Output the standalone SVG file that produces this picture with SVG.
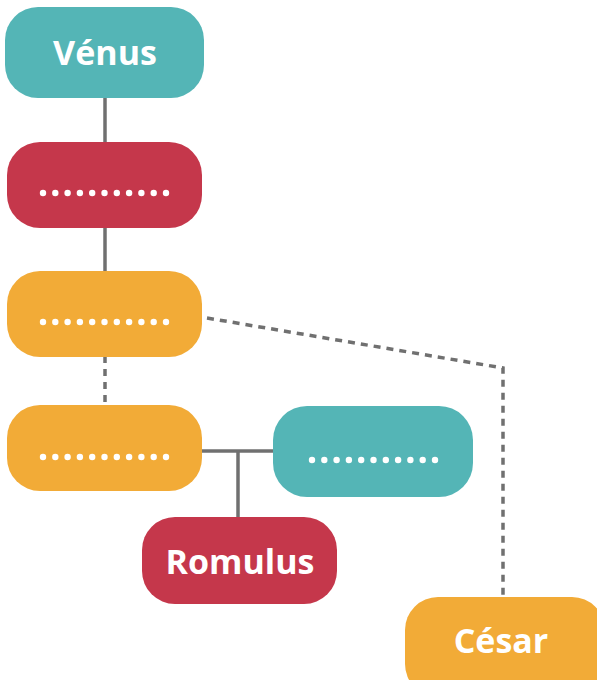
<svg xmlns="http://www.w3.org/2000/svg" width="597" height="680" viewBox="0 0 597 680">
<style>
.teal{fill:#54B5B6}
.red{fill:#C5374B}
.orange{fill:#F2AB37}
.lbl{font-family:"Open Sans","Liberation Sans",sans-serif;font-weight:bold;font-size:34px;fill:#fff;text-anchor:middle}
.dots{fill:#fff}
.solid{stroke:#707070;stroke-width:3.5;fill:none}
.dash{stroke:#707070;stroke-width:3.5;fill:none;stroke-dasharray:7 6}
</style>
<defs>
<g id="dotrow">
<circle cx="0" cy="0" r="3.2"/><circle cx="12.3" cy="0" r="3.2"/><circle cx="24.6" cy="0" r="3.2"/><circle cx="36.9" cy="0" r="3.2"/><circle cx="49.2" cy="0" r="3.2"/><circle cx="61.5" cy="0" r="3.2"/><circle cx="73.8" cy="0" r="3.2"/><circle cx="86.1" cy="0" r="3.2"/><circle cx="98.4" cy="0" r="3.2"/><circle cx="110.7" cy="0" r="3.2"/><circle cx="123" cy="0" r="3.2"/>
</g>
</defs>
<g id="connectors">
<line class="solid" x1="105" y1="97" x2="105" y2="143"/>
<line class="solid" x1="105" y1="227" x2="105" y2="272"/>
<line class="dash" x1="105" y1="356" x2="105" y2="406"/>
<line class="solid" x1="201" y1="451" x2="274" y2="451"/>
<line class="solid" x1="238" y1="451" x2="238" y2="518"/>
<polyline class="dash" points="207,318 503,368 503,598"/>
</g>
<g id="venus">
<rect class="teal" x="5" y="7" width="199" height="91" rx="33"/>
<text class="lbl" x="105" y="65">Vénus</text>
</g>
<g id="red1">
<rect class="red" x="7" y="142" width="195" height="86" rx="33"/>
<use href="#dotrow" class="dots" x="43" y="193"/>
</g>
<g id="orange1">
<rect class="orange" x="7" y="271" width="195" height="86" rx="33"/>
<use href="#dotrow" class="dots" x="43" y="322"/>
</g>
<g id="orange2">
<rect class="orange" x="7" y="405" width="195" height="86" rx="33"/>
<use href="#dotrow" class="dots" x="43" y="457"/>
</g>
<g id="teal2">
<rect class="teal" x="273" y="406" width="200" height="91" rx="34"/>
<use href="#dotrow" class="dots" x="312" y="460"/>
</g>
<g id="romulus">
<rect class="red" x="142" y="517" width="195" height="87" rx="33"/>
<text class="lbl" x="240" y="574">Romulus</text>
</g>
<g id="cesar">
<rect class="orange" x="405" y="597" width="200" height="100" rx="33"/>
<text class="lbl" x="501" y="653">César</text>
</g>
</svg>
